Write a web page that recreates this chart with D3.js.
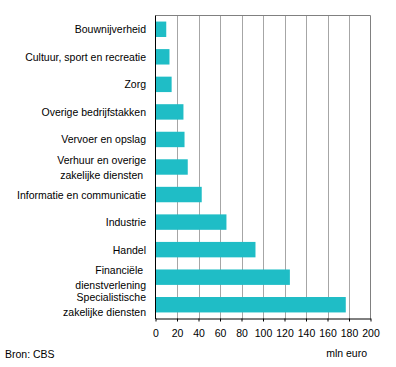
<!DOCTYPE html>
<html><head><meta charset="utf-8">
<script src="https://cdn.jsdelivr.net/npm/d3@7"></script>
<style>
body{margin:0;background:#fff;}
text{font-family:"Liberation Sans",Arial,sans-serif;font-size:10.5px;fill:#000;white-space:pre;}
</style></head>
<body><svg id="c" width="396" height="367"></svg>
<script>
const categories = [
  ["Bouwnijverheid"],
  ["Cultuur, sport en recreatie"],
  ["Zorg"],
  ["Overige bedrijfstakken"],
  ["Vervoer en opslag"],
  ["Verhuur en overige", "zakelijke diensten "],
  ["Informatie en communicatie"],
  ["Industrie"],
  ["Handel"],
  ["Financiële ", "dienstverlening"],
  ["Specialistische", "zakelijke diensten"]
];
const values = [10, 13, 15, 26, 27, 30, 43, 66, 93, 125, 177];
const ticks = [0, 20, 40, 60, 80, 100, 120, 140, 160, 180, 200];
const unitLabel = "mln euro";
const source = "Bron: CBS";

const svg = d3.select("#c");
const L = 155.5, R = 370.5, T = 15.5, B = 318.5;
const x = d3.scaleLinear().domain([0, 200]).range([L, R]);
const y = d3.scaleBand().domain(d3.range(categories.length)).range([T, B]).paddingInner(0.44).paddingOuter(0.22);

// gridlines
svg.append("g").selectAll("line").data(ticks.slice(1, -1)).join("line")
  .attr("x1", d => Math.round(x(d)) + 0.5).attr("x2", d => Math.round(x(d)) + 0.5)
  .attr("y1", T).attr("y2", B).attr("stroke", "#a6a6a6").attr("stroke-width", 1);
// top & right border
svg.append("path").attr("d", `M${L},${T}H${R}V${B}`).attr("fill", "none").attr("stroke", "#808080");

// bars
svg.append("g").selectAll("rect").data(values).join("rect")
  .attr("x", x(0)).attr("y", (d, i) => y(i))
  .attr("width", d => x(d) - x(0)).attr("height", y.bandwidth())
  .attr("fill", "#1fbdc6");

// left axis
svg.append("line").attr("x1", L).attr("x2", L).attr("y1", T).attr("y2", B + 0.5).attr("stroke", "#000");

// bottom axis
const xa = svg.append("g").attr("transform", `translate(0,${B})`)
  .call(d3.axisBottom(x).tickValues(ticks).tickSize(3).tickSizeOuter(0).tickPadding(8.5));
xa.select(".domain").attr("stroke", "#000");
xa.selectAll(".tick line").attr("stroke", "#000");
xa.selectAll("text").attr("font-size", null).attr("font-family", null).style("font-size", "10.5px").attr("fill", "#000");

// category labels
const lab = svg.append("g").selectAll("text").data(categories).join("text")
  .attr("text-anchor", "end").attr("x", 146)
  .attr("y", (d, i) => y(i) + y.bandwidth() / 2);
lab.each(function (d) {
  const t = d3.select(this);
  const n = d.length;
  d.forEach((s, k) => {
    t.append("tspan").attr("x", 146)
      .attr("dy", k === 0 ? ((-(n - 1) * 15 / 2) + 4) : 15).text(s);
  });
});

svg.append("text").attr("x", 367).attr("y", 357).attr("text-anchor", "end").text(unitLabel);
svg.append("text").attr("x", 5).attr("y", 358).text(source);
</script></body></html>
